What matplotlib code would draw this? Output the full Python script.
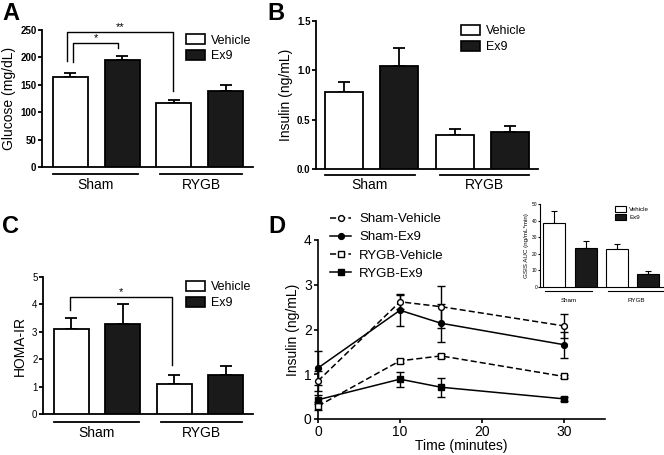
import numpy as np
import matplotlib.pyplot as plt
from matplotlib.patches import Patch
from matplotlib.lines import Line2D

plt.rcParams["font.family"] = ["Liberation Sans", "DejaVu Sans"]

# ---- data ----
groups = ["Sham", "RYGB"]
treatments = ["Vehicle", "Ex9"]

glucose_veh = [164.5, 117.5]
glucose_veh_err = [7.2, 4.2]
glucose_ex9 = [195.8, 138.6]
glucose_ex9_err = [6.0, 10.2]

insulin_veh = [0.78, 0.34]
insulin_veh_err = [0.10, 0.07]
insulin_ex9 = [1.04, 0.38]
insulin_ex9_err = [0.19, 0.06]

homa_veh = [3.09, 1.09]
homa_veh_err = [0.43, 0.33]
homa_ex9 = [3.29, 1.42]
homa_ex9_err = [0.71, 0.32]

auc_veh = [38.8, 22.9]
auc_veh_err = [6.8, 3.2]
auc_ex9 = [23.3, 7.6]
auc_ex9_err = [4.6, 1.8]

time_min = [0, 10, 15, 30]
sham_veh = [0.85, 2.62, 2.51, 2.08]
sham_veh_err = [0.22, 0.17, 0.47, 0.26]
sham_ex9 = [1.14, 2.43, 2.14, 1.66]
sham_ex9_err = [0.38, 0.35, 0.42, 0.29]
rygb_veh = [0.29, 1.30, 1.41, 0.95]
rygb_veh_err = [0.08, 0.04, 0.04, 0.03]
rygb_ex9 = [0.43, 0.89, 0.71, 0.45]
rygb_ex9_err = [0.10, 0.17, 0.21, 0.05]

W, H = 664, 455
fig = plt.figure(figsize=(W / 100, H / 100), dpi=100)


def px_axes(x0, y_top, x1, y_bot):
    return fig.add_axes([x0 / W, 1 - y_bot / H, (x1 - x0) / W, (y_bot - y_top) / H])


def bar_panel(ax, veh, veh_err, ex9, ex9_err, width, lw, cap, fs_tick, bold,
              under_y, label_y, label_fs, under_spans, xlim):
    xv = [0, 2]
    xe = [1, 3]
    ax.bar(xv, veh, width, color="white", edgecolor="black", linewidth=lw, zorder=3)
    ax.bar(xe, ex9, width, color="#1a1a1a", edgecolor="black", linewidth=lw, zorder=3)
    ax.errorbar(xv, veh, yerr=[np.zeros(2), veh_err], fmt="none", ecolor="black",
                elinewidth=lw, capsize=cap, capthick=lw, zorder=2)
    ax.errorbar(xe, ex9, yerr=[np.zeros(2), ex9_err], fmt="none", ecolor="black",
                elinewidth=lw, capsize=cap, capthick=lw, zorder=2)
    ax.set_xlim(*xlim)
    ax.set_xticks([])
    for s in ["top", "right"]:
        ax.spines[s].set_visible(False)
    for s in ["left", "bottom"]:
        ax.spines[s].set_linewidth(lw)
    ax.tick_params(axis="y", length=3, width=lw, labelsize=fs_tick, pad=1)
    if bold:
        for t in ax.get_yticklabels():
            t.set_fontweight("bold")
    tr = ax.get_xaxis_transform()
    for (a, b), g in zip(under_spans, groups):
        ax.plot([a, b], [under_y, under_y], color="black", lw=lw, transform=tr, clip_on=False)
        ax.text((a + b) / 2, label_y, g, transform=tr, ha="center", va="center",
                fontsize=label_fs)


def bracket(ax, x0, x1, ytop, y0, y1, label, fs=9):
    ax.plot([x0, x0, x1, x1], [y0, ytop, ytop, y1], color="black", lw=1, zorder=4)
    ax.text((x0 + x1) / 2, ytop, label, ha="center", va="bottom", fontsize=fs)


def bar_legend(ax, x, y, fs, hl=1.5, hh=0.9, sp=0.25, lw=1.2):
    handles = [Patch(facecolor="white", edgecolor="black", linewidth=lw),
               Patch(facecolor="#1a1a1a", edgecolor="black", linewidth=lw)]
    ax.legend(handles, treatments, loc="upper left", bbox_to_anchor=(x / W, 1 - y / H),
              bbox_transform=fig.transFigure, frameon=False, fontsize=fs,
              handlelength=hl, handleheight=hh, labelspacing=sp, handletextpad=0.5,
              borderpad=0, borderaxespad=0)


bar_xlim = (-0.55, 3.53)
spans_ac = [(-0.34, 1.31), (1.74, 3.32)]

# ---- A ----
axA = px_axes(42, 30, 253, 167)
axA.set_ylim(0, 250)
axA.set_yticks(np.arange(0, 251, 50))
bar_panel(axA, glucose_veh, glucose_veh_err, glucose_ex9, glucose_ex9_err, 0.68, 1.3, 4.5,
          7, True, -0.051, -0.131, 10, spans_ac, bar_xlim)
axA.set_ylabel("Glucose (mg/dL)", fontsize=10, labelpad=3)
bracket(axA, -0.07, 1.99, 247, 193, 138, "**", fs=8)
bracket(axA, 0.05, 0.92, 226, 191, 217, "*", fs=8)
bar_legend(axA, 186, 34, 9)

# ---- B ----
axB = px_axes(316, 21, 538, 169)
axB.set_ylim(0, 1.5)
axB.set_yticks([0, 0.5, 1.0, 1.5])
bar_panel(axB, insulin_veh, insulin_veh_err, insulin_ex9, insulin_ex9_err, 0.687, 1.3, 4.5,
          7, True, -0.04, -0.108, 10, [(-0.34, 1.28), (1.73, 3.34)], (-0.506, 3.506))
axB.set_ylabel("Insulin (ng/mL)", fontsize=10, labelpad=3)
bar_legend(axB, 461, 25, 9)

# ---- C ----
axC = px_axes(43, 277, 253, 414)
axC.set_ylim(0, 5)
axC.set_yticks(range(6))
bar_panel(axC, homa_veh, homa_veh_err, homa_ex9, homa_ex9_err, 0.68, 1.3, 4.5,
          7, False, -0.058, -0.139, 10, spans_ac, bar_xlim)
axC.set_ylabel("HOMA-IR", fontsize=10, labelpad=4)
bracket(axC, -0.03, 1.96, 4.27, 3.79, 1.78, "*", fs=8)
bar_legend(axC, 186, 281, 9)

# ---- D ----
axD = px_axes(318, 240, 605, 419)
series = [
    ("Sham-Vehicle", sham_veh, sham_veh_err, "o", "white", (0, (4, 2))),
    ("Sham-Ex9", sham_ex9, sham_ex9_err, "o", "black", "-"),
    ("RYGB-Vehicle", rygb_veh, rygb_veh_err, "s", "white", (0, (4, 2))),
    ("RYGB-Ex9", rygb_ex9, rygb_ex9_err, "s", "black", "-"),
]
handles = []
for name, vals, errs, mk, fc, ls in series:
    axD.errorbar(time_min, vals, yerr=errs, fmt="none", ecolor="black", elinewidth=1,
                 capsize=3, capthick=1, zorder=2, clip_on=False)
    axD.plot(time_min, vals, color="black", lw=1.1, ls=ls, marker=mk, markersize=4.2,
             markerfacecolor=fc, markeredgecolor="black", markeredgewidth=1.0,
             zorder=3, clip_on=False)
    handles.append(Line2D([], [], color="black", lw=1.1, ls=ls, marker=mk, markersize=4.2,
                          markerfacecolor=fc, markeredgecolor="black", markeredgewidth=1.0))
axD.set_xlim(0, 35)
axD.set_ylim(0, 4)
axD.set_xticks([0, 10, 20, 30])
axD.set_yticks(range(5))
for s in ["top", "right"]:
    axD.spines[s].set_visible(False)
for s in ["left", "bottom"]:
    axD.spines[s].set_linewidth(1.2)
axD.tick_params(length=3, width=1.2, labelsize=10, pad=1.5)
axD.set_xlabel("Time (minutes)", fontsize=10, labelpad=0)
axD.set_ylabel("Insulin (ng/mL)", fontsize=10, labelpad=3)
axD.legend(handles, [s[0] for s in series], loc="upper left",
           bbox_to_anchor=(330 / W, 1 - 213 / H), bbox_transform=fig.transFigure,
           frameon=False, fontsize=9.5, handlelength=1.6, labelspacing=0.45,
           handletextpad=0.6, borderpad=0, borderaxespad=0)

# ---- D inset ----
axI = px_axes(540, 204, 664, 287)
axI.set_ylim(0, 50)
axI.set_yticks(range(0, 51, 10))
bar_panel(axI, auc_veh, auc_veh_err, auc_ex9, auc_ex9_err, 0.7, 0.8, 2.5,
          3.5, False, -0.048, -0.157, 4.5, [(-0.3, 1.2), (1.72, 3.5)], (-0.46, 3.51))
axI.tick_params(axis="y", length=1.5, width=0.8, pad=0.5)
axI.set_ylabel("GSIS AUC (ng/mL*min)", fontsize=4.5, labelpad=2)
bar_legend(axI, 615, 206, 4.5, hl=1.8, hh=1.0, sp=0.4, lw=0.8)

# ---- panel letters ----
for letter, (x, y) in zip("ABCD", [(2, 2), (267, 2), (2, 215), (268, 215)]):
    fig.text(x / W, 1 - y / H, letter, fontsize=17, fontweight="bold", ha="left", va="top")

fig.savefig("out.png", dpi=100)
